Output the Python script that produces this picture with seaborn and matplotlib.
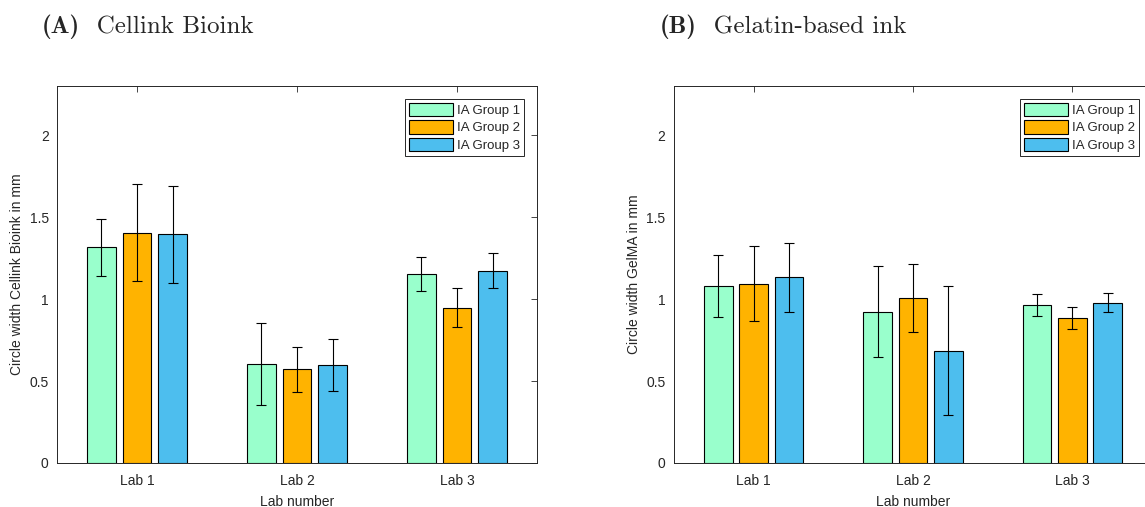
import matplotlib.pyplot as plt
import pandas as pd
import seaborn as sns

labs = ["Lab 1", "Lab 2", "Lab 3"]
groups = ["IA Group 1", "IA Group 2", "IA Group 3"]
colors = ["#99FFCC", "#FFB300", "#4DBEEE"]

# rows = IA group, columns = lab
cellink_mean = [[1.315, 0.604, 1.155],
                [1.404, 0.571, 0.947],
                [1.394, 0.598, 1.174]]
cellink_sd = [[0.175, 0.249, 0.104],
              [0.296, 0.137, 0.120],
              [0.297, 0.156, 0.108]]

gelma_mean = [[1.078, 0.923, 0.963],
              [1.094, 1.009, 0.884],
              [1.133, 0.686, 0.979]]
gelma_sd = [[0.190, 0.277, 0.067],
            [0.230, 0.208, 0.069],
            [0.210, 0.395, 0.057]]

sns.set_style("white")
plt.rcParams["font.family"] = ["Liberation Sans", "DejaVu Sans"]
dark = "#262626"


def long_table(means):
    rows = []
    for g, vals in zip(groups, means):
        for lab, v in zip(labs, vals):
            rows.append({"lab": lab, "group": g, "width": v})
    return pd.DataFrame(rows)


def draw(ax, means, sds, ylabel):
    df = long_table(means)
    sns.barplot(data=df, x="lab", y="width", hue="group", order=labs,
                hue_order=groups, palette=colors, saturation=1,
                width=0.667, gap=0.19, errorbar=None,
                edgecolor="black", linewidth=0.8, ax=ax)
    bar_sets = list(ax.containers[:3])
    for bars, sd in zip(bar_sets, sds):
        xs = [b.get_x() + b.get_width() / 2 for b in bars]
        hs = [b.get_height() for b in bars]
        ax.errorbar(xs, hs, yerr=sd, fmt="none", ecolor="black",
                    elinewidth=0.8, capsize=3.5, capthick=0.8)

    ax.set_xlim(-0.5, 2.5)
    ax.set_ylim(0, 2.3)
    ax.set_yticks([0, 0.5, 1, 1.5, 2])
    ax.set_yticklabels(["0", "0.5", "1", "1.5", "2"])
    ax.set_xlabel("Lab number", fontsize=10, color=dark, labelpad=5)
    ax.set_ylabel(ylabel, fontsize=10, color=dark, labelpad=4)
    ax.tick_params(direction="in", top=True, right=True, length=4,
                   width=0.6, labelsize=10, colors=dark)
    ax.tick_params(axis="x", pad=8)
    ax.tick_params(axis="y", pad=6)
    for s in ax.spines.values():
        s.set_visible(True)
        s.set_color(dark)
        s.set_linewidth(0.7)

    leg = ax.legend(loc="upper right", fontsize=9.5, handlelength=3.3,
                    handleheight=1.15, fancybox=False, framealpha=1,
                    edgecolor=dark, borderaxespad=0.95, handletextpad=0.3,
                    labelspacing=0.25, borderpad=0.35)
    leg.get_frame().set_linewidth(0.7)


def panel_title(x, tag, text):
    t = fig.text(x, 0.948, tag, family="cmb10", fontsize=18,
                 va="center", ha="left")
    plt.annotate("  " + text, xy=(1, 0), xycoords=t, family="cmr10",
                 fontsize=18, va="bottom", ha="left",
                 annotation_clip=False)


fig = plt.figure(figsize=(11.45, 5.07), dpi=100)
ax_a = fig.add_axes([0.0498, 0.0868, 0.4192, 0.7436])
ax_b = fig.add_axes([0.5886, 0.0868, 0.4175, 0.7436])

draw(ax_a, cellink_mean, cellink_sd, "Circle width Cellink Bioink in mm")
draw(ax_b, gelma_mean, gelma_sd, "Circle width GelMA in mm")

panel_title(0.0367, "(A)", "Cellink Bioink")
panel_title(0.5764, "(B)", "Gelatin-based ink")

fig.savefig("out.png", dpi=100)
